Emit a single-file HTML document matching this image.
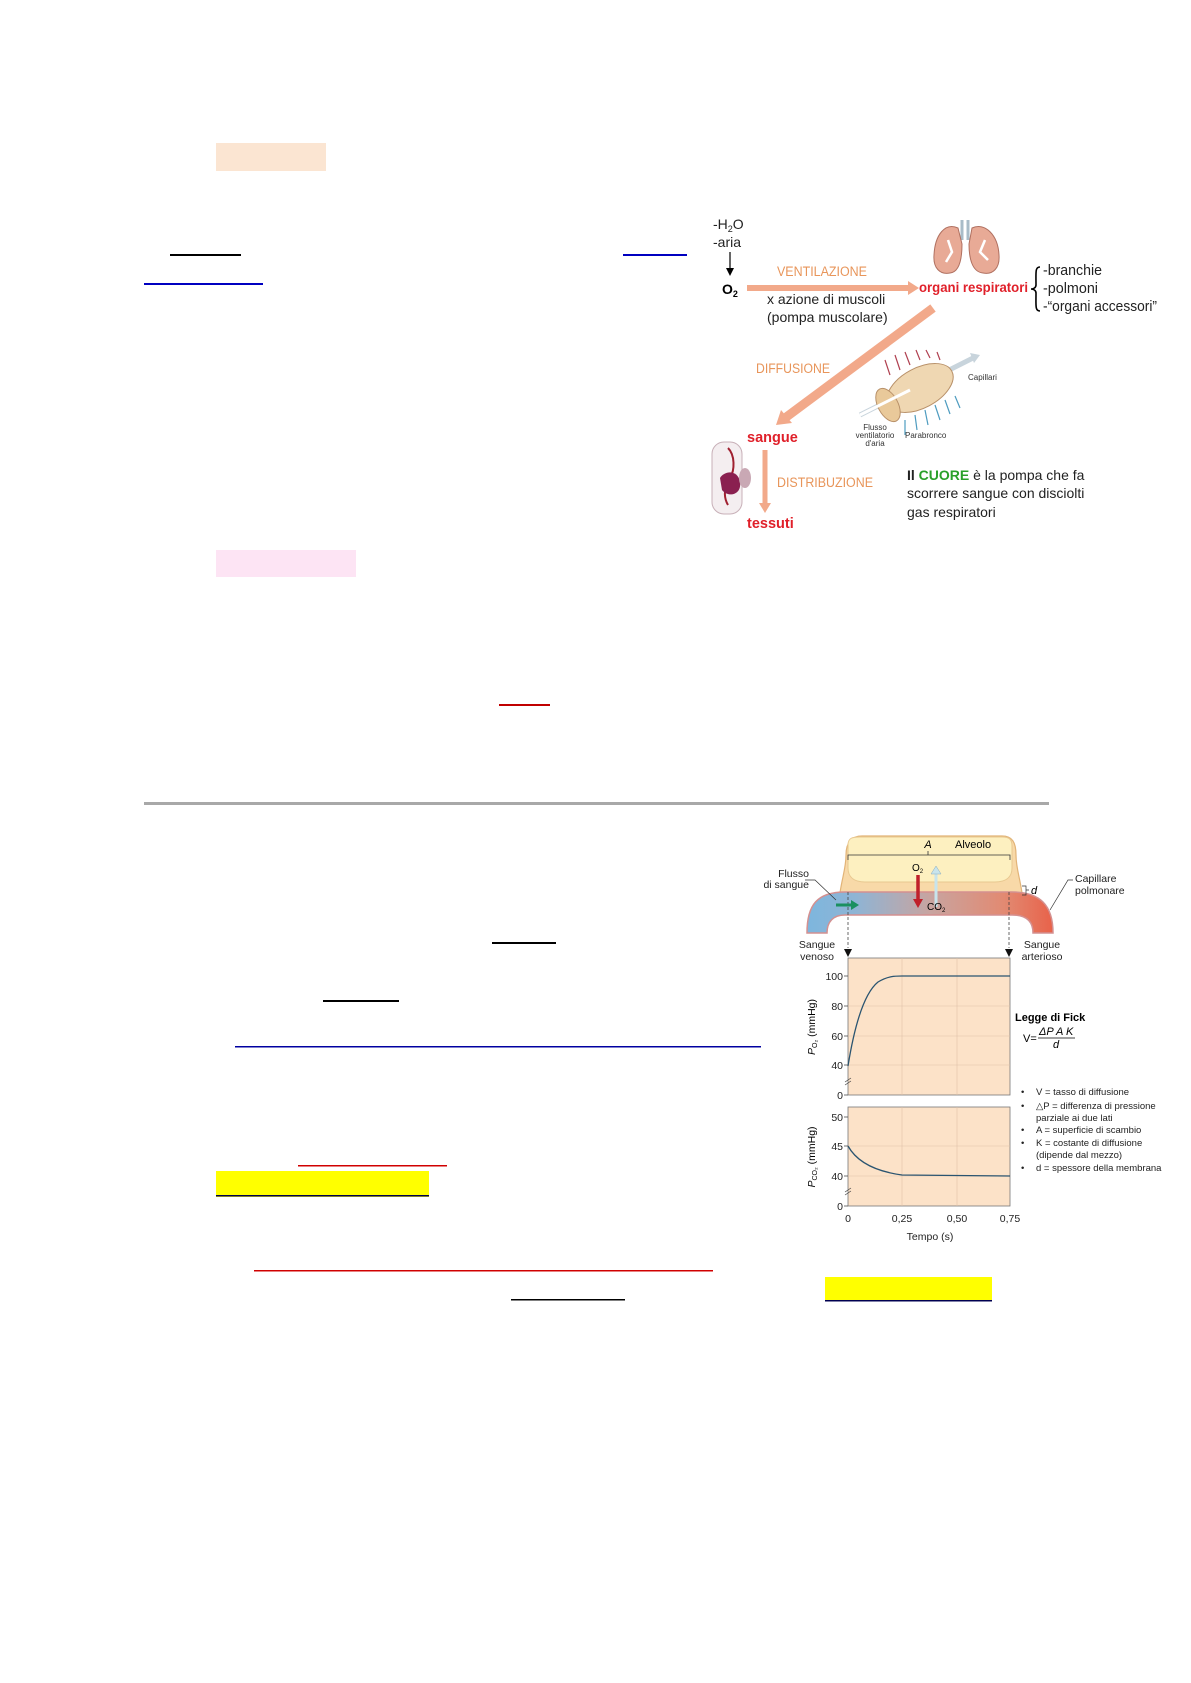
<!DOCTYPE html>
<html><head><meta charset="utf-8"><style>
html,body{margin:0;padding:0;background:#fff;}
svg{display:block;font-family:"Liberation Sans",sans-serif;}
</style></head><body>
<svg width="1191" height="1683" viewBox="0 0 1191 1683" xmlns="http://www.w3.org/2000/svg">
<defs>
<linearGradient id="tube" x1="807" y1="0" x2="1053" y2="0" gradientUnits="userSpaceOnUse">
<stop offset="0" stop-color="#7db6de"/><stop offset="0.2" stop-color="#8fb4d4"/><stop offset="0.5" stop-color="#c8a4a0"/><stop offset="0.8" stop-color="#e28a72"/><stop offset="1" stop-color="#e8624a"/></linearGradient>
<marker id="ah" markerWidth="8" markerHeight="8" refX="4" refY="4" orient="auto" markerUnits="userSpaceOnUse"><path d="M0,0 L8,4 L0,8 Z" fill="#000"/></marker>
</defs>

<rect x="216" y="143" width="110" height="28" fill="#fbe5d2"/>
<rect x="170" y="254" width="71" height="2" fill="#000"/>
<rect x="623" y="254" width="64" height="2" fill="#0000c0"/>
<rect x="144" y="283" width="119" height="2" fill="#0000c0"/>
<rect x="216" y="550" width="140" height="27" fill="#fde4f4"/>
<rect x="499" y="704" width="51" height="2" fill="#c00000"/>
<rect x="144" y="802" width="905" height="3" fill="#a8a8a8"/>

<rect x="492" y="942" width="64" height="2" fill="#000"/>
<rect x="323" y="1000" width="76" height="2" fill="#000"/>
<rect x="235" y="1046" width="526" height="1.5" fill="#0000a0"/>
<rect x="298" y="1165" width="149" height="1.5" fill="#d00000"/>
<rect x="216" y="1171" width="213" height="26" fill="#ffff00"/>
<rect x="216" y="1195" width="213" height="1.5" fill="#000050"/>
<rect x="254" y="1270" width="459" height="1.5" fill="#d00000"/>
<rect x="511" y="1299" width="114" height="1.5" fill="#000"/>
<rect x="825" y="1277" width="167" height="24" fill="#ffff00"/>
<rect x="825" y="1300" width="167" height="1.5" fill="#000050"/>

<g font-size="14" fill="#222">
<text x="713" y="229">-H<tspan font-size="9" dy="3">2</tspan><tspan dy="-3">O</tspan></text>
<text x="713" y="247">-aria</text>
</g>
<line x1="730" y1="252" x2="730" y2="272" stroke="#000" stroke-width="1.2" marker-end="url(#ah)"/>
<text x="722" y="294" font-size="14" font-weight="bold">O<tspan font-size="9" dy="3">2</tspan></text>
<line x1="747" y1="288" x2="910" y2="288" stroke="#f2a98a" stroke-width="6"/>
<path d="M908,281 L919,288 L908,295 Z" fill="#f2a98a"/>
<text x="777" y="276" font-size="13.5" fill="#e8955a" textLength="90" lengthAdjust="spacingAndGlyphs">VENTILAZIONE</text>
<text x="767" y="304" font-size="14" fill="#222">x azione di muscoli</text>
<text x="767" y="322" font-size="14" fill="#222">(pompa muscolare)</text>
<text x="919" y="292" font-size="14" font-weight="bold" fill="#e0202a" textLength="109" lengthAdjust="spacingAndGlyphs">organi respiratori</text>
<g>
<path d="M962,220 L962,240 M968,220 L968,240" stroke="#a9bcc8" stroke-width="3"/>
<path d="M958,228 C945,222 935,235 934,255 C933,268 940,275 950,273 C960,272 962,258 962,244 Z" fill="#e8aa96" stroke="#b07060" stroke-width="1"/>
<path d="M972,228 C985,222 998,235 999,255 C1000,268 993,275 983,273 C972,272 969,258 969,244 Z" fill="#e8aa96" stroke="#b07060" stroke-width="1"/>
<path d="M948,240 L952,252 L946,262 M985,240 L980,252 L988,260" stroke="#fff" stroke-width="2.5" fill="none"/>
</g>
<path d="M1040,267 C1035,267 1036,272 1036,285 C1036,288 1033,289 1031,289 C1033,289 1036,290 1036,293 C1036,306 1035,311 1040,311" stroke="#000" stroke-width="1.6" fill="none"/>
<g font-size="14.5" fill="#222">
<text x="1043" y="275" textLength="59" lengthAdjust="spacingAndGlyphs">-branchie</text>
<text x="1043" y="293" textLength="55" lengthAdjust="spacingAndGlyphs">-polmoni</text>
<text x="1043" y="311" textLength="114" lengthAdjust="spacingAndGlyphs">-“organi accessori”</text>
</g>
<line x1="933" y1="308" x2="785" y2="418" stroke="#f2a98a" stroke-width="9"/>
<path d="M776,425 L781,410 L792,423 Z" fill="#f2a98a"/>
<text x="756" y="373" font-size="13.5" fill="#e8955a" textLength="74" lengthAdjust="spacingAndGlyphs">DIFFUSIONE</text>
<g>
<line x1="860" y1="415" x2="975" y2="357" stroke="#c8d4dc" stroke-width="5"/>
<path d="M970,353 L980,355 L974,363 Z" fill="#c8d4dc"/>
<ellipse cx="920" cy="388" rx="36" ry="20" transform="rotate(-28 920 388)" fill="#efd7b2" stroke="#b89068" stroke-width="1"/>
<ellipse cx="888" cy="405" rx="10" ry="18" transform="rotate(-28 888 405)" fill="#e9c99a" stroke="#b89068"/>
<path d="M890,375 L885,360 M900,370 L895,355 M910,365 L905,352 M920,360 L916,350 M930,358 L926,350 M940,360 L937,352" stroke="#b04050" stroke-width="1.2"/>
<path d="M905,420 L905,435 M915,415 L917,430 M925,410 L928,425 M935,405 L940,420 M945,400 L950,414 M955,396 L960,408" stroke="#4e9cc0" stroke-width="1.2"/>
<line x1="860" y1="415" x2="910" y2="390" stroke="#fff" stroke-width="3"/>
</g>
<g font-size="8" fill="#333">
<text x="968" y="380">Capillari</text>
<text x="875" y="430" text-anchor="middle">Flusso</text>
<text x="875" y="438" text-anchor="middle">ventilatorio</text>
<text x="875" y="446" text-anchor="middle">d'aria</text>
<text x="905" y="438">Parabronco</text>
</g>
<g>
<rect x="712" y="442" width="30" height="72" rx="12" fill="#f4eef0" stroke="#c8b0b8"/>
<path d="M728,448 C735,455 735,470 730,478 C722,490 725,500 728,505" stroke="#a02030" stroke-width="2" fill="none"/>
<path d="M720,478 C725,470 738,470 740,482 C742,495 728,498 722,490 Z" fill="#8a2050"/>
<ellipse cx="745" cy="478" rx="6" ry="10" fill="#c9a8b4"/>
</g>
<text x="747" y="442" font-size="14.5" font-weight="bold" fill="#e0202a">sangue</text>
<line x1="765" y1="450" x2="765" y2="505" stroke="#f2a98a" stroke-width="5"/>
<path d="M759,503 L765,513 L771,503 Z" fill="#f2a98a"/>
<text x="777" y="487" font-size="13.5" fill="#e8955a" textLength="96" lengthAdjust="spacingAndGlyphs">DISTRIBUZIONE</text>
<text x="747" y="528" font-size="14.5" font-weight="bold" fill="#e0202a">tessuti</text>
<g font-size="14" fill="#222">
<text x="907" y="480"><tspan font-weight="bold">Il </tspan><tspan font-weight="bold" fill="#2aa02a">CUORE</tspan>  è la pompa che fa</text>
<text x="907" y="498">scorrere sangue con disciolti</text>
<text x="907" y="517">gas respiratori</text>
</g>

<path d="M840,893 C842,878 846,868 846,855 C846,842 852,836 862,836 L1002,836 C1012,836 1016,842 1016,855 C1016,868 1020,878 1022,893 Z" fill="#f8d9a8" stroke="#e2b478" stroke-width="1.2"/>
<path d="M848,845 C848,838 852,837 860,837 L1002,837 C1010,837 1012,840 1012,846 L1012,868 C1012,878 1005,882 995,882 L865,882 C855,882 848,878 848,868 Z" fill="#fdf0c0" stroke="#e8c890" stroke-width="1"/>
<text x="928" y="848" font-size="11" font-style="italic" text-anchor="middle">A</text>
<text x="955" y="848" font-size="11">Alveolo</text>
<path d="M848,860 L848,855 L1010,855 L1010,860 M928,855 L928,851" stroke="#333" stroke-width="0.8" fill="none"/>
<path d="M807,933 C807,905 817,892 845,892 L1012,892 C1040,892 1053,905 1053,933 L1033,933 C1033,922 1027,915 1012,915 L845,915 C833,915 827,922 827,933 Z" fill="url(#tube)" stroke="#d49090" stroke-width="1.5"/>
<line x1="848" y1="892" x2="848" y2="948" stroke="#444" stroke-width="0.8" stroke-dasharray="3,2"/>
<line x1="1009" y1="892" x2="1009" y2="948" stroke="#444" stroke-width="0.8" stroke-dasharray="3,2"/>
<path d="M844,949 L852,949 L848,957 Z M1005,949 L1013,949 L1009,957 Z" fill="#111"/>
<line x1="836" y1="905" x2="852" y2="905" stroke="#1a9060" stroke-width="3"/>
<path d="M851,900 L859,905 L851,910 Z" fill="#1a9060"/>
<line x1="918" y1="875" x2="918" y2="900" stroke="#c0202a" stroke-width="3.5"/>
<path d="M913,899 L918,908 L923,899 Z" fill="#c0202a"/>
<line x1="936" y1="907" x2="936" y2="873" stroke="#c8e4ec" stroke-width="3"/>
<path d="M931,874 L936,866 L941,874 Z" fill="#c8e4ec" stroke="#8ab" stroke-width="0.5"/>
<text x="912" y="871" font-size="10">O<tspan font-size="6" dy="2">2</tspan></text>
<text x="927" y="910" font-size="10">CO<tspan font-size="6" dy="2">2</tspan></text>
<g font-size="10.5" fill="#222">
<text x="809" y="877" text-anchor="end">Flusso</text>
<text x="809" y="888" text-anchor="end">di sangue</text>
<text x="1075" y="882">Capillare</text>
<text x="1075" y="894">polmonare</text>
<text x="817" y="948" text-anchor="middle">Sangue</text>
<text x="817" y="960" text-anchor="middle">venoso</text>
<text x="1042" y="948" text-anchor="middle">Sangue</text>
<text x="1042" y="960" text-anchor="middle">arterioso</text>
</g>
<path d="M805,880 L815,880 L836,900" stroke="#333" stroke-width="0.7" fill="none"/>
<path d="M1073,880 L1068,880 L1050,910" stroke="#333" stroke-width="0.7" fill="none"/>
<path d="M1022,886 L1026,886 L1026,895 L1022,895 M1026,890 L1029,890" stroke="#333" stroke-width="0.7" fill="none"/>
<text x="1031" y="894" font-size="11" font-style="italic">d</text>

<rect x="848" y="958" width="162" height="137" fill="#fce2c8" stroke="#777" stroke-width="0.8"/>
<g stroke="#e0c2a8" stroke-width="0.6">
<line x1="902" y1="958" x2="902" y2="1095"/><line x1="957" y1="958" x2="957" y2="1095"/>
<line x1="848" y1="1006" x2="1010" y2="1006"/><line x1="848" y1="1036" x2="1010" y2="1036"/><line x1="848" y1="1065" x2="1010" y2="1065"/>
</g>
<path d="M848,1066 C853,1035 862,995 878,982 C888,976 895,976 902,976 L1010,976" stroke="#2a5470" stroke-width="1.3" fill="none"/>
<g font-size="10.5" text-anchor="end" fill="#222">
<text x="843" y="980">100</text><text x="843" y="1010">80</text><text x="843" y="1040">60</text><text x="843" y="1069">40</text><text x="843" y="1099">0</text>
</g>
<path d="M844,976 L848,976 M844,1006 L848,1006 M844,1036 L848,1036 M844,1065 L848,1065 M844,1095 L848,1095 M845,1082 L851,1078 M845,1085 L851,1081" stroke="#444" stroke-width="0.7"/>
<text transform="translate(815 1027) rotate(-90)" font-size="10.5" text-anchor="middle"><tspan font-style="italic">P</tspan><tspan font-size="7" dy="2">O₂</tspan><tspan dy="-2"> (mmHg)</tspan></text>

<rect x="848" y="1107" width="162" height="99" fill="#fce2c8" stroke="#777" stroke-width="0.8"/>
<g stroke="#e0c2a8" stroke-width="0.6">
<line x1="902" y1="1107" x2="902" y2="1206"/><line x1="957" y1="1107" x2="957" y2="1206"/>
<line x1="848" y1="1146" x2="1010" y2="1146"/><line x1="848" y1="1176" x2="1010" y2="1176"/>
</g>
<path d="M848,1146 C858,1164 880,1172 902,1175 L1010,1176" stroke="#2a5470" stroke-width="1.3" fill="none"/>
<g font-size="10.5" text-anchor="end" fill="#222">
<text x="843" y="1121">50</text><text x="843" y="1150">45</text><text x="843" y="1180">40</text><text x="843" y="1210">0</text>
</g>
<path d="M844,1117 L848,1117 M844,1146 L848,1146 M844,1176 L848,1176 M844,1206 L848,1206 M845,1192 L851,1188 M845,1195 L851,1191" stroke="#444" stroke-width="0.7"/>
<text transform="translate(815 1157) rotate(-90)" font-size="10.5" text-anchor="middle"><tspan font-style="italic">P</tspan><tspan font-size="7" dy="2">CO₂</tspan><tspan dy="-2"> (mmHg)</tspan></text>
<g font-size="10.5" text-anchor="middle" fill="#222">
<text x="848" y="1222">0</text><text x="902" y="1222">0,25</text><text x="957" y="1222">0,50</text><text x="1010" y="1222">0,75</text>
<text x="930" y="1240">Tempo (s)</text>
</g>

<text x="1015" y="1021" font-size="11" font-weight="bold">Legge di Fick</text>
<text x="1023" y="1042" font-size="11">V=</text>
<text x="1039" y="1035" font-size="11" font-style="italic">ΔP A K</text>
<line x1="1038" y1="1038" x2="1075" y2="1038" stroke="#000" stroke-width="0.8"/>
<text x="1053" y="1048" font-size="11" font-style="italic">d</text>
<g font-size="9.5" fill="#222">
<text x="1021" y="1095">•</text><text x="1036" y="1095">V = tasso di diffusione</text>
<text x="1021" y="1109">•</text><text x="1036" y="1109">△P = differenza di pressione</text>
<text x="1036" y="1121">parziale ai due lati</text>
<text x="1021" y="1133">•</text><text x="1036" y="1133">A = superficie di scambio</text>
<text x="1021" y="1146">•</text><text x="1036" y="1146">K = costante di diffusione</text>
<text x="1036" y="1158">(dipende dal mezzo)</text>
<text x="1021" y="1171">•</text><text x="1036" y="1171">d = spessore della membrana</text>
</g>
</svg>
</body></html>
